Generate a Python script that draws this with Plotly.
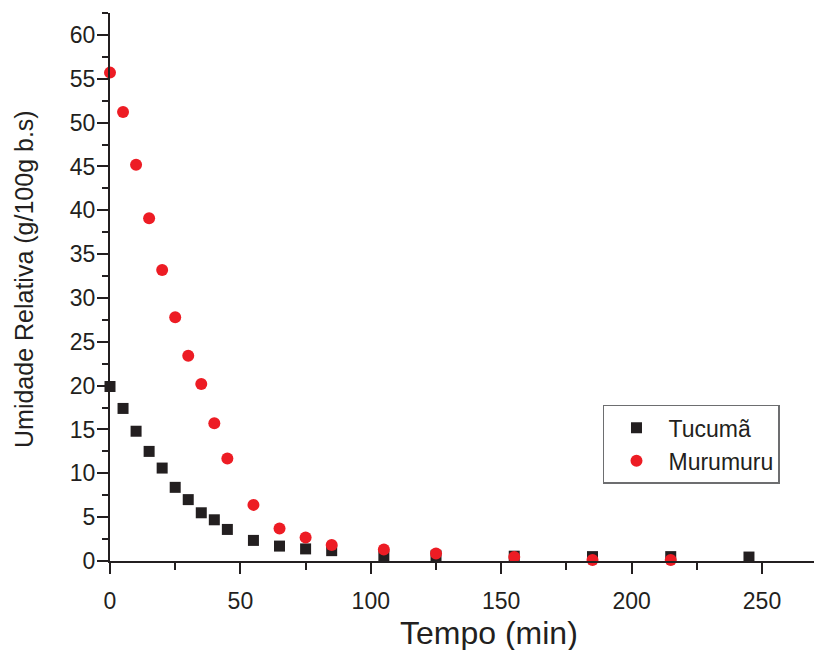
import plotly.graph_objects as go

tempo = [0, 5, 10, 15, 20, 25, 30, 35, 40, 45, 55, 65, 75, 85, 105, 125, 155, 185, 215, 245]
tucuma = [19.9, 17.4, 14.8, 12.5, 10.6, 8.4, 7.0, 5.5, 4.7, 3.6, 2.35, 1.7, 1.38, 1.18, 0.6, 0.6, 0.55, 0.5, 0.5, 0.45]
tempo_m = [0, 5, 10, 15, 20, 25, 30, 35, 40, 45, 55, 65, 75, 85, 105, 125, 155, 185, 215]
murumuru = [55.7, 51.2, 45.2, 39.1, 33.2, 27.8, 23.4, 20.2, 15.7, 11.7, 6.4, 3.7, 2.68, 1.82, 1.3, 0.85, 0.45, 0.12, 0.12]

x_ticks = [0, 50, 100, 150, 200, 250]
y_ticks = [0, 5, 10, 15, 20, 25, 30, 35, 40, 45, 50, 55, 60]

BLACK = "#231f20"
RED = "#ed1c24"
FONT = "Liberation Sans, Arial, sans-serif"

fig = go.Figure()
fig.add_trace(go.Scatter(
    x=tempo, y=tucuma, mode="markers", name="Tucumã",
    marker=dict(symbol="square", size=11, color=BLACK),
    cliponaxis=False,
))
fig.add_trace(go.Scatter(
    x=tempo_m, y=murumuru, mode="markers", name="Murumuru",
    marker=dict(symbol="circle", size=12, color=RED),
    cliponaxis=False,
))

axis_common = dict(
    showline=True, linecolor=BLACK, linewidth=2,
    ticks="outside", tickcolor=BLACK, tickwidth=2, ticklen=11,
    showgrid=False, zeroline=False,
    tickfont=dict(family=FONT, size=23, color=BLACK),
)

fig.update_xaxes(
    range=[0, 273], tickvals=x_ticks, ticklabelstandoff=7,
    minor=dict(ticks="outside", dtick=25, tick0=0, ticklen=7, tickwidth=2, tickcolor=BLACK, showgrid=False),
    **axis_common,
)
fig.update_yaxes(
    range=[0, 62.5], tickvals=y_ticks, ticklabelstandoff=-3,
    minor=dict(ticks="outside", dtick=2.5, tick0=0, ticklen=6, tickwidth=2, tickcolor=BLACK, showgrid=False),
    **axis_common,
)

fig.add_annotation(
    text="Umidade Relativa (g/100g b.s)", textangle=-90,
    xref="paper", yref="paper", x=0, y=0.5146, xshift=-86,
    xanchor="center", yanchor="middle", showarrow=False,
    font=dict(family=FONT, size=25, color=BLACK),
)
fig.add_annotation(
    text="Tempo (min)",
    xref="paper", yref="paper", x=0.532, y=0, yshift=-72,
    xanchor="center", yanchor="middle", showarrow=False,
    font=dict(family=FONT, size=32, color=BLACK),
)

# the page body adds an 8px offset; compensate so the plot area lands where the reference has it
fig.update_layout(
    width=814, height=642,
    margin=dict(l=102, r=0, t=5, b=89, autoexpand=False),
    paper_bgcolor="white", plot_bgcolor="white",
    showlegend=True,
    legend=dict(
        x=0.6924, y=0.285, xanchor="left", yanchor="top",
        bgcolor="white", bordercolor="#6d6e70", borderwidth=1.5,
        font=dict(family=FONT, size=23, color=BLACK),
        itemwidth=54, tracegroupgap=0,
    ),
)

fig.write_html("out.html")
